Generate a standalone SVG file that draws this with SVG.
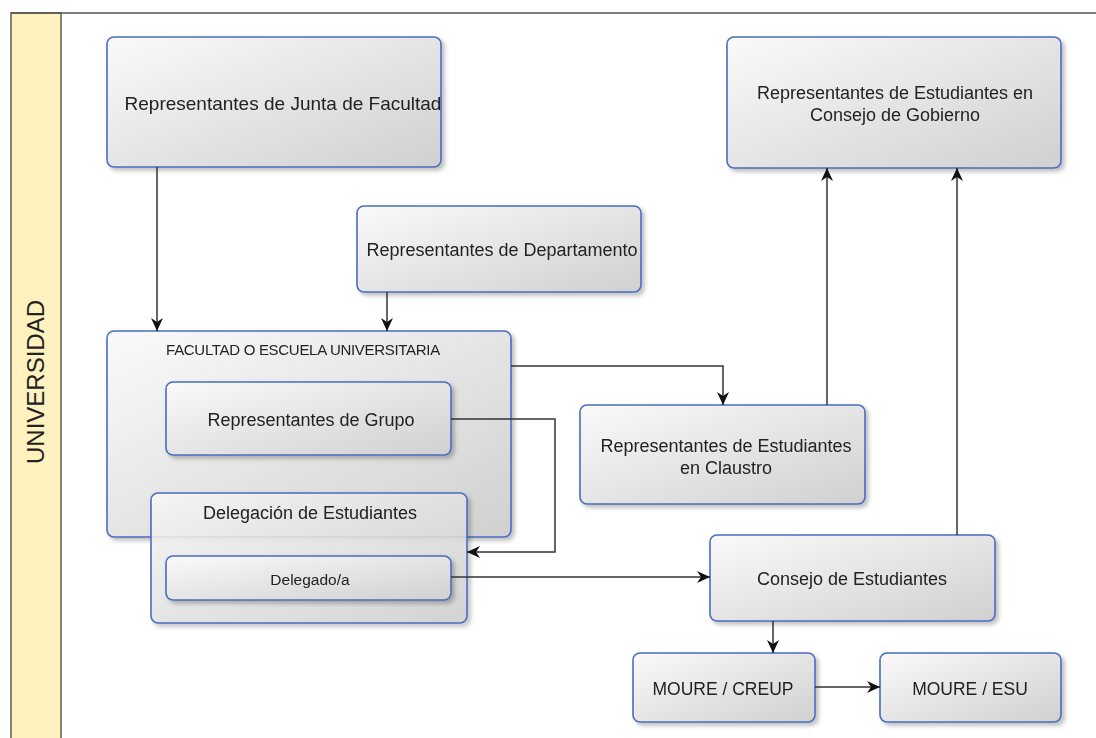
<svg xmlns="http://www.w3.org/2000/svg" width="1096" height="738" viewBox="0 0 1096 738">
<style>
.node{stroke:#4a6cc0;stroke-width:1.6;fill:url(#g)}
.t{font-family:"Liberation Sans",Arial,sans-serif;font-size:18px;fill:#222;text-anchor:middle}
.c{fill:none;stroke:#333;stroke-width:1.5}
</style>
<defs>
<linearGradient id="g" x1="0" y1="0" x2="1" y2="1">
<stop offset="0" stop-color="#fafafa"/>
<stop offset="1" stop-color="#d0d0d0"/>
</linearGradient>
<filter id="sh" x="-5%" y="-5%" width="112%" height="120%">
<feDropShadow dx="3" dy="3" stdDeviation="2" flood-color="#000" flood-opacity="0.25"/>
</filter>
<marker id="a" viewBox="0 0 13 12" refX="13" refY="6" markerWidth="13" markerHeight="12" markerUnits="userSpaceOnUse" orient="auto">
<path d="M0,0 L13,6 L0,12 L4,6 z" fill="#111"/>
</marker>
</defs>
<rect width="1096" height="738" fill="#fff"/>
<g id="lane">
<rect x="11" y="13" width="50" height="740" fill="#fff2bf" stroke="#666" stroke-width="1.6"/>
<line x1="11" y1="13" x2="1096" y2="13" stroke="#555" stroke-width="1.6"/>
<text class="t" transform="translate(44,382) rotate(-90)" style="font-size:24px">UNIVERSIDAD</text>
</g>
<g id="junta" filter="url(#sh)"><rect class="node" x="107" y="37" width="334" height="130" rx="7"/><text class="t" x="283" y="110" style="font-size:19px">Representantes de Junta de Facultad</text></g>
<g id="departamento" filter="url(#sh)"><rect class="node" x="357" y="206" width="284" height="86" rx="7"/><text class="t" x="502" y="256">Representantes de Departamento</text></g>
<g id="gobierno" filter="url(#sh)"><rect class="node" x="727" y="37" width="334" height="131" rx="7"/><text class="t" x="895" y="99">Representantes de Estudiantes en</text><text class="t" x="895" y="121">Consejo de Gobierno</text></g>
<g id="facultad" filter="url(#sh)"><rect class="node" x="107" y="331" width="404" height="206" rx="7"/><text class="t" x="303" y="355" style="font-size:15px;letter-spacing:-0.3px">FACULTAD O ESCUELA UNIVERSITARIA</text></g>
<g id="grupo" filter="url(#sh)"><rect class="node" x="166" y="382" width="285" height="73" rx="7"/><text class="t" x="311" y="426">Representantes de Grupo</text></g>
<g id="delegacion" filter="url(#sh)"><rect class="node" x="151" y="493" width="316" height="130" rx="7" fill-opacity="0.85"/><text class="t" x="310" y="519">Delegación de Estudiantes</text></g>
<g id="delegado" filter="url(#sh)"><rect class="node" x="166" y="556" width="285" height="44" rx="7"/><text class="t" x="310" y="585" style="font-size:15.5px">Delegado/a</text></g>
<g id="claustro" filter="url(#sh)"><rect class="node" x="580" y="405" width="285" height="99" rx="7"/><text class="t" x="726" y="452">Representantes de Estudiantes</text><text class="t" x="726" y="474">en Claustro</text></g>
<g id="consejo" filter="url(#sh)"><rect class="node" x="710" y="535" width="285" height="86" rx="7"/><text class="t" x="852" y="585">Consejo de Estudiantes</text></g>
<g id="creup" filter="url(#sh)"><rect class="node" x="633" y="653" width="182" height="69" rx="7"/><text class="t" x="723" y="695" style="font-size:17.5px">MOURE / CREUP</text></g>
<g id="esu" filter="url(#sh)"><rect class="node" x="880" y="653" width="181" height="69" rx="7"/><text class="t" x="970" y="695" style="font-size:17.5px">MOURE / ESU</text></g>
<g id="connectors">
<path class="c" d="M157,167 V331" marker-end="url(#a)"/>
<path class="c" d="M387,292 V331" marker-end="url(#a)"/>
<path class="c" d="M511,366 H723 V405" marker-end="url(#a)"/>
<path class="c" d="M451,419 H555 V552 H467" marker-end="url(#a)"/>
<path class="c" d="M451,577 H710" marker-end="url(#a)"/>
<path class="c" d="M827,405 V168" marker-end="url(#a)"/>
<path class="c" d="M957,535 V168" marker-end="url(#a)"/>
<path class="c" d="M773,621 V653" marker-end="url(#a)"/>
<path class="c" d="M815,687 H880" marker-end="url(#a)"/>
</g>
</svg>
